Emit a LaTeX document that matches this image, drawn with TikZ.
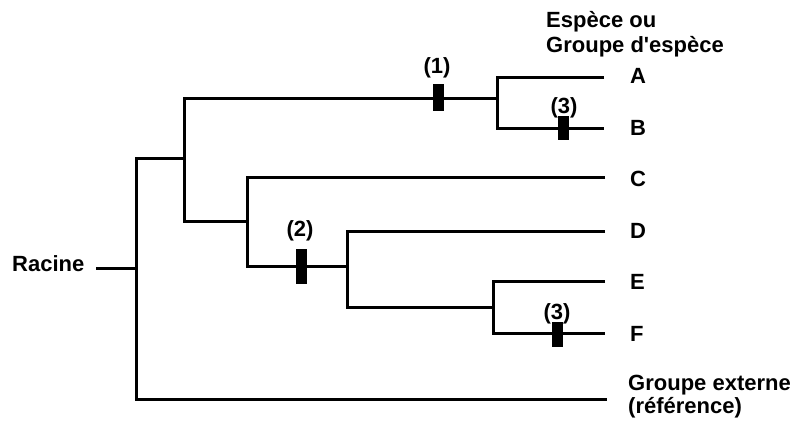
\documentclass[tikz,border=0pt]{standalone}
\usepackage{fontspec}
\setmainfont{Liberation Sans}
\begin{document}
\begin{tikzpicture}[x=1pt,y=-1pt,
  branch/.style={line width=3pt},
  lbl/.style={font=\bfseries\fontsize{22}{24}\selectfont, inner sep=0pt},
  tick/.style={fill=black, inner sep=0pt, minimum width=11pt, minimum height=#1}]
\useasboundingbox (0,0) rectangle (794,424);
% tips
\coordinate (tA) at (604,77);
\coordinate (tB) at (604,128);
\coordinate (tC) at (605,177);
\coordinate (tD) at (605,231);
\coordinate (tE) at (605,281);
\coordinate (tF) at (605,333);
\coordinate (tO) at (607,399);
% internal nodes
\coordinate (nAB) at (497,98);
\coordinate (nIn) at (184,158);
\coordinate (nC) at (247,221);
\coordinate (nDEF) at (347,266);
\coordinate (nEF) at (493,307);
\coordinate (root) at (136,268);
\coordinate (stub) at (96,268);
% branches
\draw[branch] (tA) -| (nAB) |- (tB);
\draw[branch] (nAB) -| (nIn) |- (nC);
\draw[branch] (tC) -| (nC) |- (nDEF);
\draw[branch] (tD) -| (nDEF) |- (nEF);
\draw[branch] (tE) -| (nEF) |- (tF);
\draw[branch] (nIn) -| (root) |- (tO);
\draw[branch] (stub) -- (root);
% markers
\node[tick=27pt] (m1) at (438,97) {};
\node[tick=24pt] (m3a) at (563,128) {};
\node[tick=35pt] (m2) at (301,266) {};
\node[tick=25pt] (m3b) at (557,334) {};
\node[lbl, anchor=base] (l1) at (437,73) {(1)};
\node[lbl, anchor=base] (l3a) at (564,113) {(3)};
\node[lbl, anchor=base] (l2) at (300,236) {(2)};
\node[lbl, anchor=base] (l3b) at (557,319) {(3)};
% labels
\node[lbl, anchor=base west] (head1) at (546,27) {Espèce ou};
\node[lbl, anchor=base west] (head2) at (546,52) {Groupe d\textquotesingle espèce};
\node[lbl, anchor=base west] (A) at (630,83) {A};
\node[lbl, anchor=base west] (B) at (630,135) {B};
\node[lbl, anchor=base west] (C) at (630,186) {C};
\node[lbl, anchor=base west] (D) at (630,238) {D};
\node[lbl, anchor=base west] (E) at (630,289) {E};
\node[lbl, anchor=base west] (F) at (630,341) {F};
\node[lbl, anchor=base west] (G1) at (628,390) {Groupe externe};
\node[lbl, anchor=base west] (G2) at (628,413) {(référence)};
\node[lbl, anchor=base west] (rac) at (12,271) {Racine};
\end{tikzpicture}
\end{document}
